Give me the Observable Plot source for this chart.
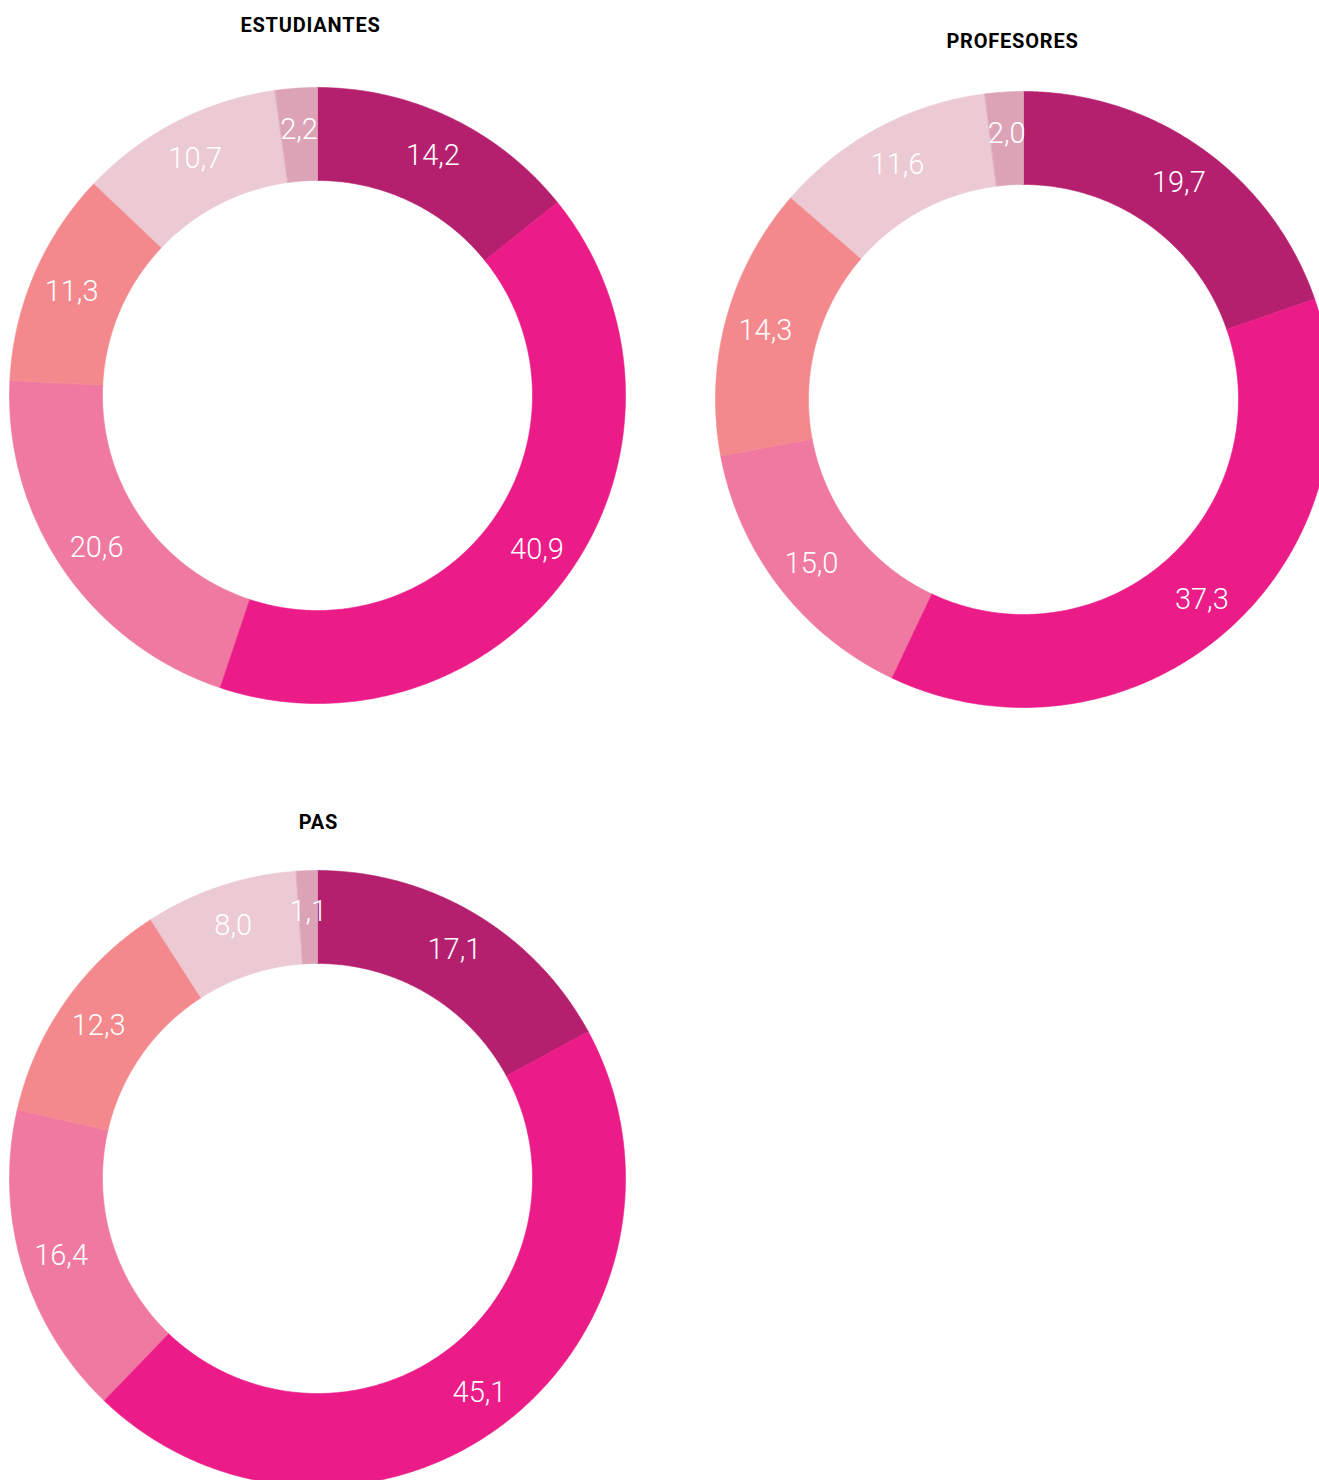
<!DOCTYPE html>
<html>
<head>
<meta charset="utf-8">
<script src="https://cdn.jsdelivr.net/npm/d3@7"></script>
<script src="https://cdn.jsdelivr.net/npm/@observablehq/plot@0.6"></script>
<style>
  html, body { margin: 0; padding: 0; background: #ffffff; overflow: hidden; width: 1319px; height: 1480px; }
  #chart svg { display: block; overflow: hidden; }
  .chart-title text { letter-spacing: 0.8px; }
</style>
</head>
<body>
<div id="chart"></div>
<script>
// ---- data ----
const chartNames = ["ESTUDIANTES", "PROFESORES", "PAS"];
const categories = ["Categoría 1", "Categoría 2", "Categoría 3", "Categoría 4", "Categoría 5", "Categoría 6"];
const estudiantes = [14.2, 40.9, 20.6, 11.3, 10.7, 2.2];
const profesores  = [19.7, 37.3, 15.0, 14.3, 11.6, 2.0];
const pas         = [17.1, 45.1, 16.4, 12.3, 8.0, 1.1];
const colors = ["#B5206E", "#EB1B88", "#F079A1", "#F3898D", "#EBCAD3", "#DCA3B7"];

// ---- layout (pixels) ----
const W = 1319, H = 1480;
const R_OUT = 308, R_IN = 215;
const layout = [
  {cx: 317, cy: 395, titleX: 310, titleY: 25},
  {cx: 1023, cy: 399, titleX: 1012, titleY: 41},
  {cx: 317, cy: 1178, titleX: 318, titleY: 822}
];
const seriesList = [estudiantes, profesores, pas];

const polys = [];
const labels = [];
const titles = [];
seriesList.forEach((vals, ci) => {
  const {cx, cy, titleX, titleY} = layout[ci];
  titles.push({x: titleX, y: titleY, text: chartNames[ci]});
  const total = d3.sum(vals);
  let acc = 0;
  vals.forEach((v, si) => {
    const a0 = acc / total * 2 * Math.PI;
    acc += v;
    const a1 = acc / total * 2 * Math.PI;
    const key = chartNames[ci] + "-" + si;
    const n = Math.max(4, Math.ceil((a1 - a0) / (Math.PI / 360)));
    for (let k = 0; k <= n; k++) {
      const a = a0 + (a1 - a0) * k / n;
      polys.push({key, cat: categories[si], x: cx + R_OUT * Math.sin(a), y: cy - R_OUT * Math.cos(a)});
    }
    for (let k = n; k >= 0; k--) {
      const a = a0 + (a1 - a0) * k / n;
      polys.push({key, cat: categories[si], x: cx + R_IN * Math.sin(a), y: cy - R_IN * Math.cos(a)});
    }
    const am = (a0 + a1) / 2;
    const rm = (R_OUT + R_IN) / 2 + 6;
    labels.push({x: cx + rm * Math.sin(am), y: cy - rm * Math.cos(am) + 1, text: v.toFixed(1).replace(".", ",")});
  });
});

const plot = Plot.plot({
  width: W,
  height: H,
  margin: 0,
  x: {domain: [0, W], range: [0, W], axis: null},
  y: {domain: [0, H], range: [0, H], axis: null},
  color: {domain: categories, range: colors},
  style: {background: "#ffffff"},
  marks: [
    Plot.line(polys, {x: "x", y: "y", z: "key", fill: "cat", stroke: "cat", strokeWidth: 0.6, curve: "linear-closed"}),
    Plot.text(labels, {x: "x", y: "y", text: "text", fill: "#ffffff", fontSize: 29, fontFamily: "Roboto", fontWeight: 300}),
    Plot.text(titles, {x: "x", y: "y", text: "text", fill: "#000000", fontSize: 20, fontFamily: "Roboto", fontWeight: 700, className: "chart-title"})
  ]
});
document.getElementById("chart").appendChild(plot);
</script>
</body>
</html>
